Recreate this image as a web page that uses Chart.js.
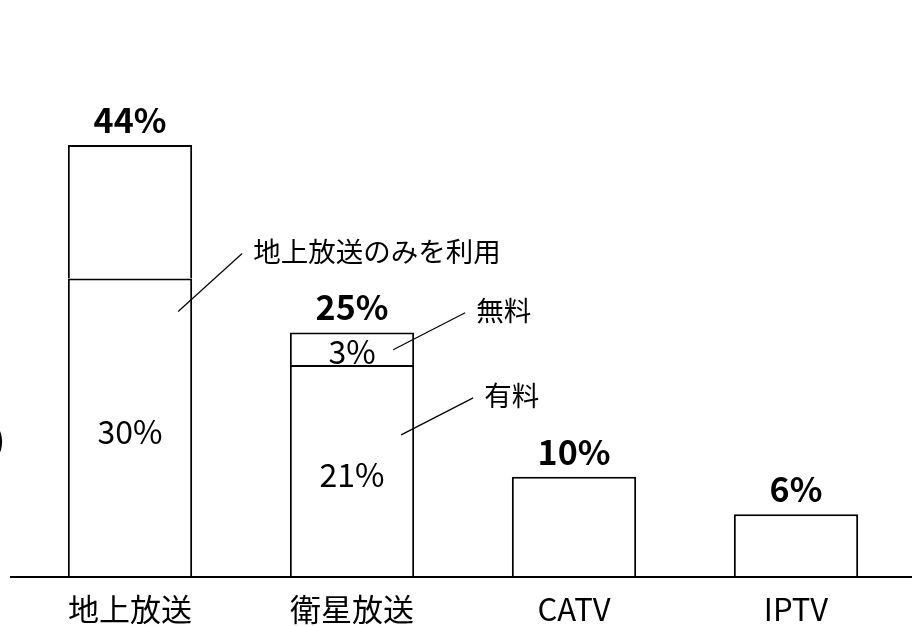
<!DOCTYPE html>
<html>
<head>
<meta charset="utf-8">
<script src="https://cdn.jsdelivr.net/npm/chart.js@4"></script>
<style>
  html, body { margin: 0; padding: 0; background: #fff; }
  #wrap { width: 912px; height: 626px; position: relative; }
</style>
</head>
<body>
<div id="wrap"><canvas id="chart" width="912" height="626"></canvas></div>
<script>
// ---------- DATA ----------
const categories = ["地上放送", "衛星放送", "CATV", "IPTV"];
const baseValues = [30.4, 21.6, 10.2, 6.4];     // lower segment (有料 etc.)
const upperValues = [13.6, 3.3, null, null];    // upper segment
const totalLabels = ["44%", "25%", "10%", "6%"];
const baseLabels = ["30%", "21%", null, null];
const upperLabels = [null, "3%", null, null];
const calloutTexts = ["地上放送のみを利用", "無料", "有料"];

const FONT = "'Noto Sans CJK JP', 'Noto Sans', sans-serif";

// ---------- LABELS + CALLOUTS ----------
const labelPlugin = {
  id: "labels",
  afterDatasetsDraw(chart) {
    const ctx = chart.ctx;
    const lower = chart.getDatasetMeta(0).data;
    const upper = chart.getDatasetMeta(1).data;
    const area = chart.chartArea;

    ctx.save();

    // extended baseline
    ctx.strokeStyle = "#000";
    ctx.lineWidth = 2;
    ctx.beginPath();
    ctx.moveTo(10, area.bottom);
    ctx.lineTo(chart.width, area.bottom);
    ctx.stroke();

    ctx.fillStyle = "#000";
    ctx.textAlign = "center";
    ctx.textBaseline = "middle";

    // totals (bold, above bar)
    ctx.font = "bold 34px " + FONT;
    for (let i = 0; i < categories.length; i++) {
      let top = upperValues[i] != null ? upper[i].y : lower[i].y;
      ctx.fillText(totalLabels[i], lower[i].x, top - 25);
    }

    // inside labels
    ctx.font = "32px " + FONT;
    for (let i = 0; i < categories.length; i++) {
      if (baseLabels[i]) {
        ctx.fillText(baseLabels[i], lower[i].x, (lower[i].y + lower[i].base) / 2 + 4);
      }
      if (upperLabels[i]) {
        ctx.fillText(upperLabels[i], upper[i].x, (upper[i].y + upper[i].base) / 2 + 3);
      }
    }

    // callouts
    ctx.font = "27.5px " + FONT;
    ctx.textAlign = "left";
    ctx.lineWidth = 1.2;

    function callout(text, x1, y1, x2, y2) {
      ctx.beginPath();
      ctx.moveTo(x1, y1);
      ctx.lineTo(x2, y2);
      ctx.stroke();
      ctx.fillText(text, x2 + 11, y2 - 2);
    }

    let b0 = lower[0], u0 = upper[0];
    let r0 = b0.x + b0.width / 2;
    callout(calloutTexts[0], r0 - 14, u0.base + 33, r0 + 50, u0.base - 25);

    let b1 = lower[1], u1 = upper[1];
    let r1 = b1.x + b1.width / 2;
    let mid1 = (u1.y + u1.base) / 2;
    callout(calloutTexts[1], r1 - 21, mid1 + 1, r1 + 51, mid1 - 36);
    callout(calloutTexts[2], r1 - 13, b1.y + 70, r1 + 59, b1.y + 33);

    // cut-off axis unit at left edge
    ctx.font = "30px " + FONT;
    ctx.textAlign = "right";
    ctx.fillText("(%)", 5, 440);

    ctx.restore();
  }
};

// ---------- CHART ----------
new Chart(document.getElementById("chart"), {
  type: "bar",
  data: {
    labels: categories,
    datasets: [
      {
        data: baseValues,
        backgroundColor: "#fff",
        borderColor: "#000",
        borderWidth: 2
      },
      {
        data: upperValues,
        backgroundColor: "#fff",
        borderColor: "#000",
        borderWidth: 2
      }
    ]
  },
  options: {
    responsive: false,
    animation: false,
    barPercentage: 0.56,
    categoryPercentage: 1,
    layout: { padding: { left: 19, right: 5, top: 86, bottom: -16 } },
    plugins: {
      legend: { display: false },
      tooltip: { enabled: false }
    },
    scales: {
      x: {
        stacked: true,
        grid: { display: false, drawTicks: false },
        border: { display: false },
        ticks: {
          color: "#000",
          padding: 17,
          font: { family: FONT, size: 31, lineHeight: 1 }
        }
      },
      y: {
        stacked: true,
        display: false,
        min: 0,
        max: 50
      }
    }
  },
  plugins: [labelPlugin]
});
</script>
</body>
</html>
